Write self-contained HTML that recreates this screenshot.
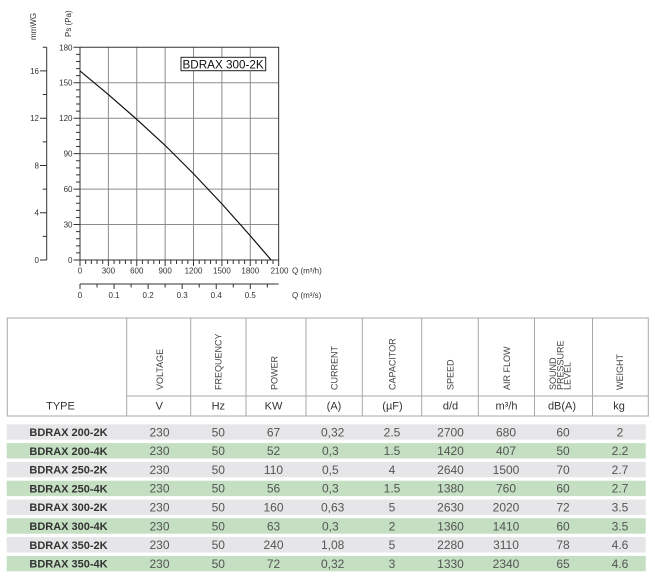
<!DOCTYPE html>
<html><head><meta charset="utf-8"><style>
html,body{margin:0;padding:0;background:#fff;}
svg{display:block;font-family:"Liberation Sans",Arial,sans-serif;}
</style></head><body>
<svg width="655" height="577" viewBox="0 0 655 577" xmlns="http://www.w3.org/2000/svg">
<!-- grid -->
<g stroke="#8c8c8c" stroke-width="1" fill="none">
<path d="M108.38,47.3V260M136.76,47.3V260M165.14,47.3V260M193.52,47.3V260M221.9,47.3V260M250.28,47.3V260"/>
<path d="M80,82.75H278.66M80,118.2H278.66M80,153.65H278.66M80,189.1H278.66M80,224.55H278.66"/>
</g>
<g stroke="#333" stroke-width="1" fill="none">
<path d="M73.5,47.3H278.66V260"/>
<path d="M80,47.3V260H278.66"/>
<!-- Pa ticks -->
<path d="M76,252.91H80M76,245.82H80M76,238.73H80M76,231.64H80M76,217.46H80M76,210.37H80M76,203.28H80M76,196.19H80M76,182.01H80M76,174.92H80M76,167.83H80M76,160.74H80M76,146.56H80M76,139.47H80M76,132.38H80M76,125.29H80M76,111.11H80M76,104.02H80M76,96.93H80M76,89.84H80M76,75.66H80M76,68.57H80M76,61.48H80M76,54.39H80"/>
<path d="M73.5,260H80M73.5,224.55H80M73.5,189.1H80M73.5,153.65H80M73.5,118.2H80M73.5,82.75H80"/>
<!-- mmWG axis -->
<path d="M46.7,47.3V260"/>
<path d="M42.7,47.3H46.7M42.7,94.56H46.7M42.7,141.83H46.7M42.7,189.1H46.7M42.7,236.37H46.7"/>
<path d="M40,70.93H46.7M40,118.2H46.7M40,165.46H46.7M40,212.73H46.7M40,260H46.7"/>
<!-- x ticks -->
<path d="M85.68,260V264M91.35,260V264M97.03,260V264M102.7,260V264M114.06,260V264M119.73,260V264M125.41,260V264M131.08,260V264M142.44,260V264M148.11,260V264M153.79,260V264M159.46,260V264M170.82,260V264M176.49,260V264M182.17,260V264M187.84,260V264M199.2,260V264M204.87,260V264M210.55,260V264M216.22,260V264M227.58,260V264M233.25,260V264M238.93,260V264M244.6,260V264M255.96,260V264M261.63,260V264M267.31,260V264M272.98,260V264"/>
<path d="M80,260V266M108.38,260V266M136.76,260V266M165.14,260V266M193.52,260V266M221.9,260V266M250.28,260V266M278.66,260V266"/>
<!-- second axis -->
<path d="M80,284H278.66"/>
<path d="M80,284V289M114.06,284V289M148.12,284V289M182.18,284V289M216.24,284V289M250.3,284V289"/>
<path d="M97.03,284V287.5M131.09,284V287.5M165.15,284V287.5M199.21,284V287.5M233.27,284V287.5M267.33,284V287.5"/>
</g>
<!-- curve -->
<polyline fill="none" stroke="#111" stroke-width="1.2" points="80,70.93 108.38,94.56 136.76,119.38 165.14,145.38 193.52,173.74 221.9,203.87 250.28,235.78 271.11,260"/>
<!-- label box -->
<rect x="181" y="57.3" width="84.7" height="13.4" fill="#fff" stroke="#222" stroke-width="1"/>
<text x="182.5" y="68.6" font-size="11.7" fill="#111">BDRAX 300-2K</text>
<!-- tick labels -->
<g font-size="8" fill="#333">
<g text-anchor="end">
<text x="72.5" y="50.3">180</text><text x="72.5" y="85.7">150</text><text x="72.5" y="121.2">120</text><text x="72.5" y="156.6">90</text><text x="72.5" y="192.1">60</text><text x="72.5" y="227.5">30</text><text x="72.5" y="263">0</text>
<text x="39" y="73.9">16</text><text x="39" y="121.2">12</text><text x="39" y="168.4">8</text><text x="39" y="215.7">4</text><text x="39" y="263">0</text>
</g>
<g text-anchor="middle">
<text x="80" y="273.5">0</text><text x="108.38" y="273.5">300</text><text x="136.76" y="273.5">600</text><text x="165.14" y="273.5">900</text><text x="193.52" y="273.5">1200</text><text x="221.9" y="273.5">1500</text><text x="250.28" y="273.5">1800</text><text x="279.5" y="273.5">2100</text>
<text x="80" y="298">0</text><text x="114.06" y="298">0.1</text><text x="148.12" y="298">0.2</text><text x="182.18" y="298">0.3</text><text x="216.24" y="298">0.4</text><text x="250.3" y="298">0.5</text>
</g>
<text x="292" y="273.5">Q (m³/h)</text>
<text x="292" y="298">Q (m³/s)</text>
<text transform="translate(36,40) rotate(-90)">mmWG</text>
<text transform="translate(71,37) rotate(-90)">Ps (Pa)</text>
</g>

<!-- TABLE HEADER -->
<g stroke="#a8a8a8" stroke-width="1" fill="none">
<rect x="7.3" y="318" width="641" height="98"/>
<path d="M126.7,318V416M190.7,318V416M246,318V416M306,318V416M362.3,318V416M421.7,318V416M478.3,318V416M534.5,318V416M592.5,318V416"/>
<path d="M126.7,396H648.3"/>
</g>
<g font-size="9" fill="#444">
<text transform="translate(163.2,390) rotate(-90)">VOLTAGE</text>
<text transform="translate(221.5,390) rotate(-90)">FREQUENCY</text>
<text transform="translate(277.5,390) rotate(-90)">POWER</text>
<text transform="translate(337.3,390) rotate(-90)">CURRENT</text>
<text transform="translate(395.5,390) rotate(-90)">CAPACITOR</text>
<text transform="translate(453.7,390) rotate(-90)">SPEED</text>
<text transform="translate(510.2,390) rotate(-90)">AIR FLOW</text>
<text transform="translate(556.2,390) rotate(-90)">SOUND</text>
<text transform="translate(563.4,390) rotate(-90)">PRESSURE</text>
<text transform="translate(570.6,390) rotate(-90)">LEVEL</text>
<text transform="translate(622.8,390) rotate(-90)">WEIGHT</text>
</g>
<g font-size="11" fill="#333" text-anchor="middle">
<text x="60.5" y="409.7">TYPE</text>
<text x="159.3" y="409.7">V</text>
<text x="218.3" y="409.7">Hz</text>
<text x="273.5" y="409.7">KW</text>
<text x="334" y="409.7">(A)</text>
<text x="392.5" y="409.7">(µF)</text>
<text x="450.5" y="409.7">d/d</text>
<text x="506.5" y="409.7">m³/h</text>
<text x="562" y="409.7">dB(A)</text>
<text x="619" y="409.7">kg</text>
</g>

<!-- ROWS -->
<g>
<rect x="6.7" y="424.3" width="639" height="15.4" fill="#e6e6e8"/>
<rect x="6.7" y="443.1" width="639" height="15.4" fill="#c4dfc2"/>
<rect x="6.7" y="461.9" width="639" height="15.4" fill="#e6e6e8"/>
<rect x="6.7" y="480.7" width="639" height="15.4" fill="#c4dfc2"/>
<rect x="6.7" y="499.5" width="639" height="15.4" fill="#e6e6e8"/>
<rect x="6.7" y="518.3" width="639" height="15.4" fill="#c4dfc2"/>
<rect x="6.7" y="537.1" width="639" height="15.4" fill="#e6e6e8"/>
<rect x="6.7" y="555.9" width="639" height="15.4" fill="#c4dfc2"/>
</g>
<g font-size="11" font-weight="bold" fill="#333" text-anchor="middle">
<text x="68.5" y="436">BDRAX 200-2K</text>
<text x="68.5" y="454.8">BDRAX 200-4K</text>
<text x="68.5" y="473.6">BDRAX 250-2K</text>
<text x="68.5" y="492.4">BDRAX 250-4K</text>
<text x="68.5" y="511.2">BDRAX 300-2K</text>
<text x="68.5" y="530">BDRAX 300-4K</text>
<text x="68.5" y="548.8">BDRAX 350-2K</text>
<text x="68.5" y="567.6">BDRAX 350-4K</text>
</g>
<g font-size="12" fill="#555" text-anchor="middle">
<g transform="translate(0,436.3)"><text x="159.5">230</text><text x="218.3">50</text><text x="273.5">67</text><text x="392">2.5</text><text x="450.5">2700</text><text x="506">680</text><text x="563">60</text><text x="620">2</text></g>
<g transform="translate(0,455.1)"><text x="159.5">230</text><text x="218.3">50</text><text x="273.5">52</text><text x="392">1.5</text><text x="450.5">1420</text><text x="506">407</text><text x="563">50</text><text x="620">2.2</text></g>
<g transform="translate(0,473.9)"><text x="159.5">230</text><text x="218.3">50</text><text x="273.5">110</text><text x="392">4</text><text x="450.5">2640</text><text x="506">1500</text><text x="563">70</text><text x="620">2.7</text></g>
<g transform="translate(0,492.7)"><text x="159.5">230</text><text x="218.3">50</text><text x="273.5">56</text><text x="392">1.5</text><text x="450.5">1380</text><text x="506">760</text><text x="563">60</text><text x="620">2.7</text></g>
<g transform="translate(0,511.5)"><text x="159.5">230</text><text x="218.3">50</text><text x="273.5">160</text><text x="392">5</text><text x="450.5">2630</text><text x="506">2020</text><text x="563">72</text><text x="620">3.5</text></g>
<g transform="translate(0,530.3)"><text x="159.5">230</text><text x="218.3">50</text><text x="273.5">63</text><text x="392">2</text><text x="450.5">1360</text><text x="506">1410</text><text x="563">60</text><text x="620">3.5</text></g>
<g transform="translate(0,549.1)"><text x="159.5">230</text><text x="218.3">50</text><text x="273.5">240</text><text x="392">5</text><text x="450.5">2280</text><text x="506">3110</text><text x="563">78</text><text x="620">4.6</text></g>
<g transform="translate(0,567.9)"><text x="159.5">230</text><text x="218.3">50</text><text x="273.5">72</text><text x="392">3</text><text x="450.5">1330</text><text x="506">2340</text><text x="563">65</text><text x="620">4.6</text></g>
</g>
<g font-size="12" fill="#555">
<text x="321" y="436.3">0,32</text>
<text x="322" y="455.1">0,3</text>
<text x="322" y="473.9">0,5</text>
<text x="322" y="492.7">0,3</text>
<text x="321" y="511.5">0,63</text>
<text x="322" y="530.3">0,3</text>
<text x="321" y="549.1">1,08</text>
<text x="321" y="567.9">0,32</text>
</g>
</svg>
</body></html>
